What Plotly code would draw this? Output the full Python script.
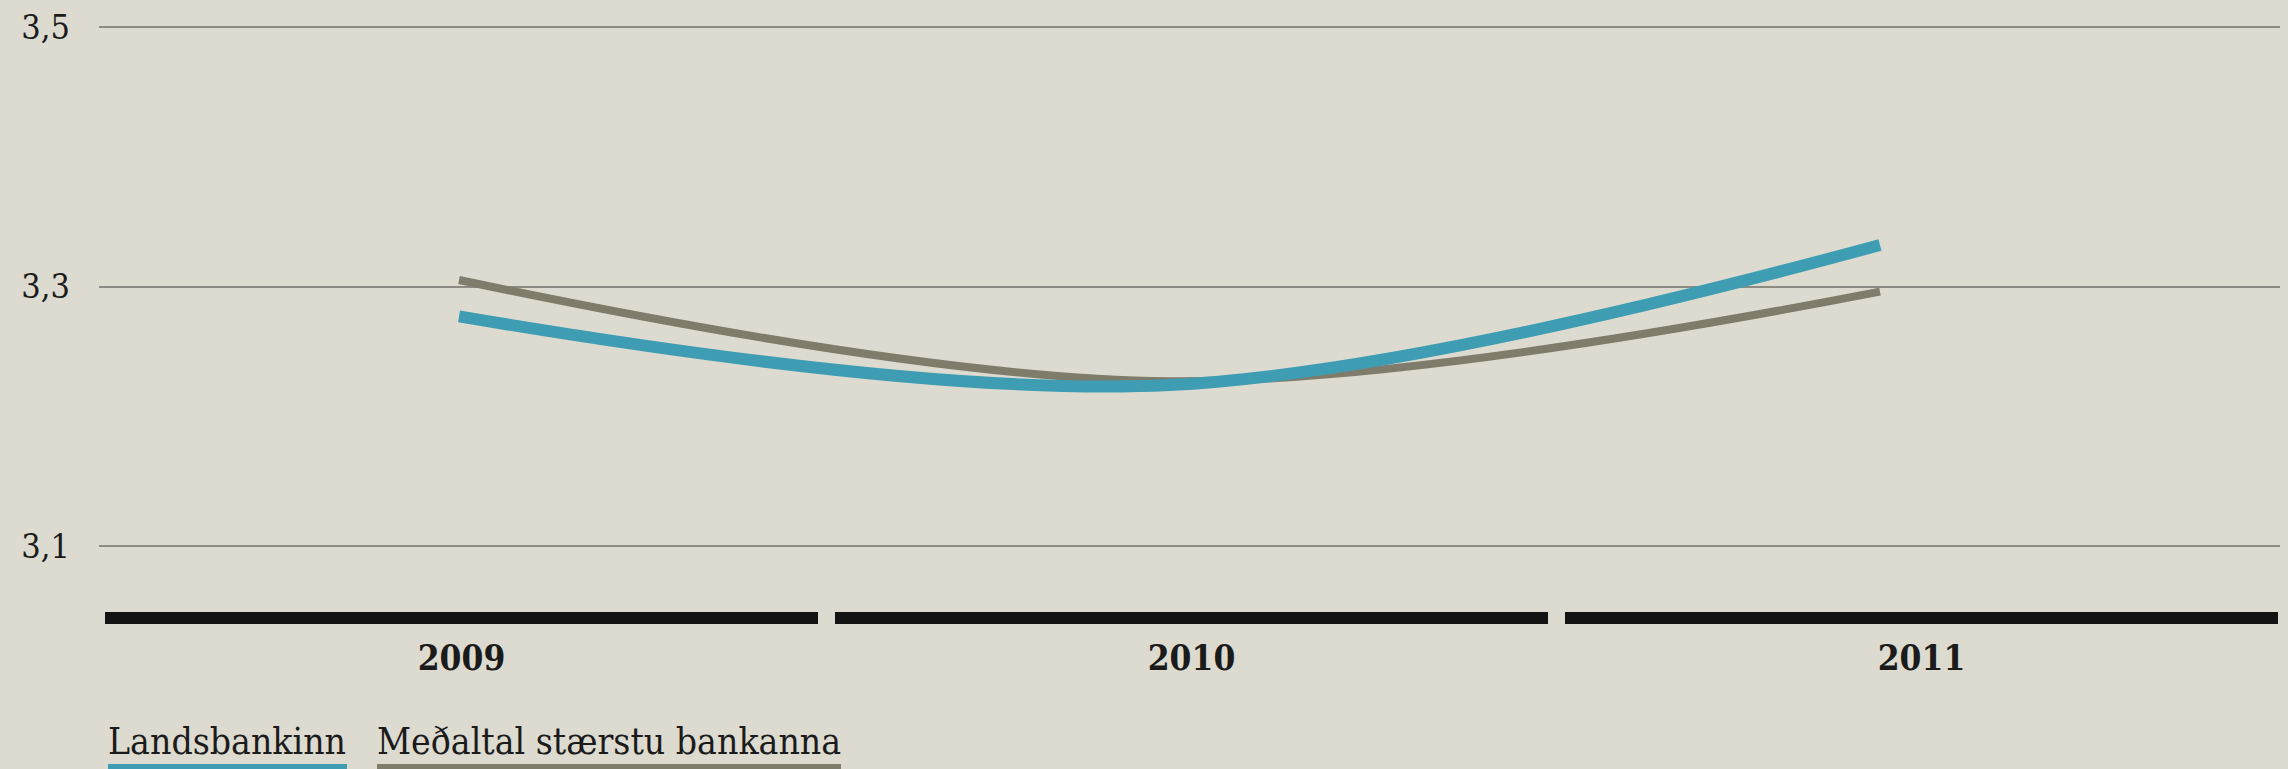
import plotly.graph_objects as go

# gögn
ar = ["2009", "2010", "2011"]
landsbankinn = [3.277, 3.224, 3.332]
medaltal = [3.305, 3.227, 3.296]
y_ticks = [3.1, 3.3, 3.5]
band = [1, 1, 1]

W, H = 2288, 769
BG = "#dddbd0"
TEAL = "#3f9db3"
GRAY = "#7f7c6c"
TEXT = "#1b1b1b"
FONT = "DejaVu Serif Condensed, DejaVu Serif, serif"


def px_x(p):
    return p / W


def px_y(p):
    return 1 - p / H


fig = go.Figure()

# svörtu ársborðarnir neðst
fig.add_trace(go.Bar(
    x=ar, y=band,
    xaxis="x", yaxis="y2",
    marker=dict(color="#131313", line=dict(width=0)),
    showlegend=False, hoverinfo="skip",
))

fig.add_trace(go.Scatter(
    x=ar, y=medaltal,
    xaxis="x2", yaxis="y",
    mode="lines", name="Meðaltal stærstu bankanna",
    line=dict(color=GRAY, width=8, shape="spline", smoothing=1),
))
fig.add_trace(go.Scatter(
    x=ar, y=landsbankinn,
    xaxis="x2", yaxis="y",
    mode="lines", name="Landsbankinn",
    line=dict(color=TEAL, width=12, shape="spline", smoothing=1),
))

# legend: texti með lit undir
legend_items = [
    ("Landsbankinn", TEAL, 108, 347),
    ("Meðaltal stærstu bankanna", GRAY, 377, 841),
]
for txt, col, x0, x1 in legend_items:
    fig.add_annotation(
        text=txt, xref="paper", yref="paper",
        x=px_x(x0 - 2), y=px_y(741), xanchor="left", yanchor="middle",
        showarrow=False, font=dict(family=FONT, size=37, color=TEXT),
    )
    fig.add_shape(
        type="rect", xref="paper", yref="paper",
        x0=px_x(x0), x1=px_x(x1), y0=px_y(769), y1=px_y(764),
        fillcolor=col, line=dict(width=0),
    )

# smá aukabil svo gridlínur á 3,1 og 3,5 sjáist
pad = 0.001
ppu = (544 - 25) / 0.4
top, bottom = 27, 546

fig.update_layout(
    width=W, height=H,
    autosize=False,
    margin=dict(l=0, r=0, t=0, b=0, pad=0),
    paper_bgcolor=BG,
    plot_bgcolor=BG,
    separators=", ",
    showlegend=False,
    bargap=17 / 730,
    font=dict(family=FONT, color=TEXT),
    xaxis=dict(
        type="category", domain=[px_x(96.5), px_x(2286.5)],
        range=[-0.5, 2.5], anchor="y2", automargin=False,
        showgrid=False, zeroline=False, showline=False, ticks="",
        tickfont=dict(family=FONT, size=35, color=TEXT, weight="bold"),
        ticklabelstandoff=10,
    ),
    yaxis2=dict(
        domain=[px_y(624), px_y(612)], range=[0, 1], anchor="x",
        visible=False, automargin=False,
    ),
    xaxis2=dict(
        type="category", domain=[px_x(99), px_x(2280)],
        range=[-0.5067, 2.563], anchor="y",
        visible=False, automargin=False,
    ),
    yaxis=dict(
        domain=[px_y(bottom + pad * ppu), px_y(top - pad * ppu)],
        range=[3.1 - pad, 3.5 + pad], anchor="x2", automargin=False,
        tickvals=y_ticks, tickformat=".1f",
        showgrid=True, gridcolor="#8c8a83", gridwidth=2,
        zeroline=False, showline=False, ticks="",
        tickfont=dict(family=FONT, size=34, color=TEXT),
        ticklabelstandoff=28,
    ),
)

fig.write_html(
    "out.html",
    config=dict(displayModeBar=False),
    post_script="document.body.style.margin='0';",
)
